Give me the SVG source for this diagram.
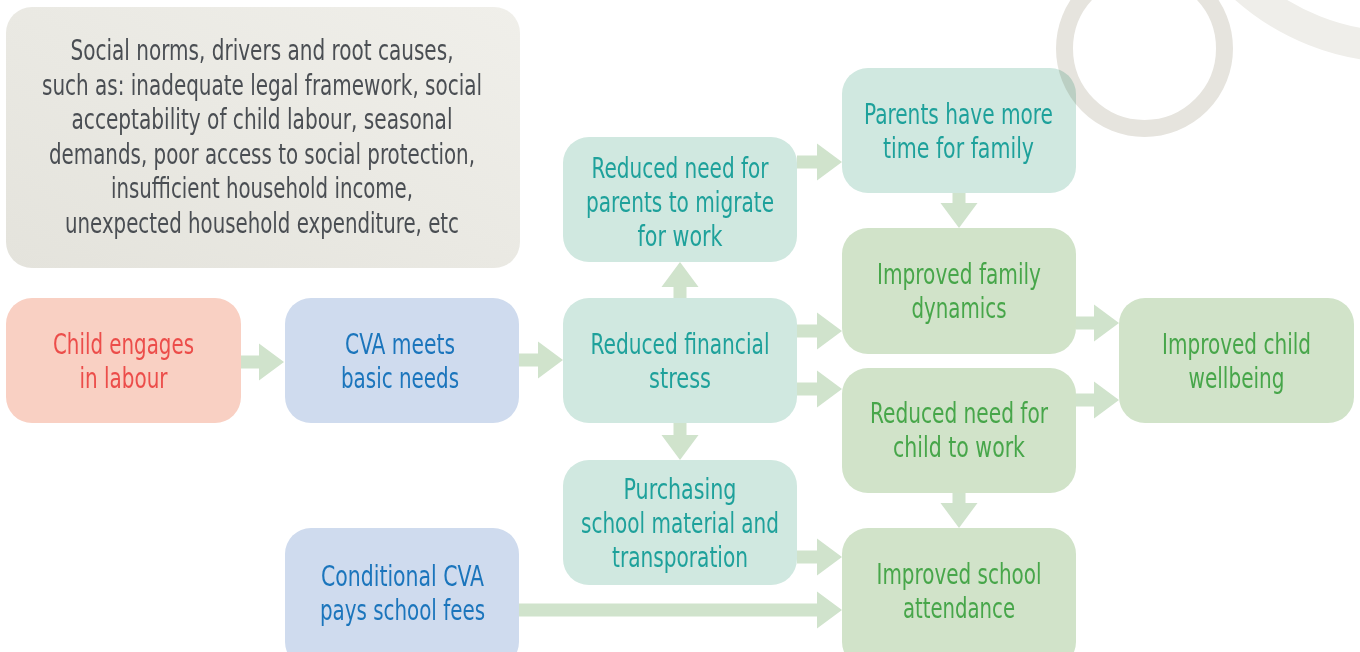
<svg xmlns="http://www.w3.org/2000/svg" width="1360" height="652" viewBox="0 0 1360 652">
<defs>
<linearGradient id="gg" x1="0" y1="1" x2="1" y2="0">
<stop offset="0" stop-color="#e4e3dc"/>
<stop offset="1" stop-color="#f0efea"/>
</linearGradient>
</defs>
<style>
text{font-family:"Liberation Sans Narrow","DejaVu Sans Condensed","Roboto Condensed",sans-serif;font-size:28px;text-anchor:middle}
rect{mix-blend-mode:multiply}
.peach{fill:#f9d0c3}.blue{fill:#cfdbee}.teal{fill:#d0e8e0}.green{fill:#d1e3c9}
.tp{fill:#ec4d4a}.tb{fill:#1b75bc}.tt{fill:#1ea19b}.tg{fill:#47a64a}.tgr{fill:#4a4e53}
.arr{fill:#d0e3cc}
</style>
<rect width="1360" height="652" fill="#ffffff" style="mix-blend-mode:normal"/>
<g id="decor" fill="none">
<circle cx="1144.5" cy="48.5" r="80" stroke="#e6e4de" stroke-width="17"/>
<circle cx="1400" cy="-186" r="233" stroke="#efeeea" stroke-width="31"/>
</g>
<g id="connectors" class="arr">
<polygon points="241,355.5 259,355.5 259,343.5 284,362 259,380.5 259,368.5 241,368.5"/>
<polygon points="519,353.5 538,353.5 538,341.5 563,360 538,378.5 538,366.5 519,366.5"/>
<polygon points="673.5,298 673.5,287 661.5,287 680,262 698.5,287 686.5,287 686.5,298"/>
<polygon points="673.5,423 673.5,435 661.5,435 680,460 698.5,435 686.5,435 686.5,423"/>
<polygon points="797,155.5 817,155.5 817,143.5 842,162 817,180.5 817,168.5 797,168.5"/>
<polygon points="952.5,193 952.5,203 940.5,203 959,228 977.5,203 965.5,203 965.5,193"/>
<polygon points="797,324.5 817,324.5 817,312.5 842,331 817,349.5 817,337.5 797,337.5"/>
<polygon points="797,382.5 817,382.5 817,370.5 842,389 817,407.5 817,395.5 797,395.5"/>
<polygon points="1076,316.5 1094,316.5 1094,304.5 1119,323 1094,341.5 1094,329.5 1076,329.5"/>
<polygon points="1076,393.5 1094,393.5 1094,381.5 1119,400 1094,418.5 1094,406.5 1076,406.5"/>
<polygon points="952.5,493 952.5,503 940.5,503 959,528 977.5,503 965.5,503 965.5,493"/>
<polygon points="797,550.5 817,550.5 817,538.5 842,557 817,575.5 817,563.5 797,563.5"/>
<polygon points="519,603.5 817,603.5 817,591.5 842,610 817,628.5 817,616.5 519,616.5"/>
</g>
<g id="root-causes">
<rect x="6" y="7" width="514" height="261" rx="26" fill="url(#gg)"/>
<text class="tgr" x="262" y="60" textLength="383" lengthAdjust="spacingAndGlyphs">Social norms, drivers and root causes,</text>
<text class="tgr" x="262" y="94.5" textLength="440" lengthAdjust="spacingAndGlyphs">such as: inadequate legal framework, social</text>
<text class="tgr" x="262" y="129" textLength="381" lengthAdjust="spacingAndGlyphs">acceptability of child labour, seasonal</text>
<text class="tgr" x="262" y="163.5" textLength="426" lengthAdjust="spacingAndGlyphs">demands, poor access to social protection,</text>
<text class="tgr" x="262" y="198" textLength="302" lengthAdjust="spacingAndGlyphs">insufficient household income,</text>
<text class="tgr" x="262" y="232.5" textLength="394" lengthAdjust="spacingAndGlyphs">unexpected household expenditure, etc</text>
</g>
<g id="child-labour">
<rect class="peach" x="6" y="298" width="235" height="125" rx="26"/>
<text class="tp" x="123.5" y="354" textLength="141" lengthAdjust="spacingAndGlyphs">Child engages</text>
<text class="tp" x="123.5" y="388" textLength="88" lengthAdjust="spacingAndGlyphs">in labour</text>
</g>
<g id="cva-basic">
<rect class="blue" x="285" y="298" width="234" height="125" rx="26"/>
<text class="tb" x="400" y="354" textLength="110" lengthAdjust="spacingAndGlyphs">CVA meets</text>
<text class="tb" x="400" y="388" textLength="118" lengthAdjust="spacingAndGlyphs">basic needs</text>
</g>
<g id="conditional-cva">
<rect class="blue" x="285" y="528" width="234" height="140" rx="26"/>
<text class="tb" x="402.5" y="586" textLength="163" lengthAdjust="spacingAndGlyphs">Conditional CVA</text>
<text class="tb" x="402.5" y="620" textLength="165" lengthAdjust="spacingAndGlyphs">pays school fees</text>
</g>
<g id="reduced-migrate">
<rect class="teal" x="563" y="137" width="234" height="125" rx="26"/>
<text class="tt" x="680" y="178" textLength="177" lengthAdjust="spacingAndGlyphs">Reduced need for</text>
<text class="tt" x="680" y="212" textLength="188" lengthAdjust="spacingAndGlyphs">parents to migrate</text>
<text class="tt" x="680" y="246" textLength="85" lengthAdjust="spacingAndGlyphs">for work</text>
</g>
<g id="reduced-stress">
<rect class="teal" x="563" y="298" width="234" height="125" rx="26"/>
<text class="tt" x="680" y="354" textLength="179" lengthAdjust="spacingAndGlyphs">Reduced financial</text>
<text class="tt" x="680" y="388" textLength="62" lengthAdjust="spacingAndGlyphs">stress</text>
</g>
<g id="purchasing">
<rect class="teal" x="563" y="460" width="234" height="125" rx="26"/>
<text class="tt" x="680" y="499" textLength="113" lengthAdjust="spacingAndGlyphs">Purchasing</text>
<text class="tt" x="680" y="533" textLength="198" lengthAdjust="spacingAndGlyphs">school material and</text>
<text class="tt" x="680" y="567" textLength="136" lengthAdjust="spacingAndGlyphs">transporation</text>
</g>
<g id="parents-time">
<rect class="teal" x="842" y="68" width="234" height="125" rx="26"/>
<text class="tt" x="958.5" y="124" textLength="189" lengthAdjust="spacingAndGlyphs">Parents have more</text>
<text class="tt" x="958.5" y="158" textLength="151" lengthAdjust="spacingAndGlyphs">time for family</text>
</g>
<g id="family-dynamics">
<rect class="green" x="842" y="228" width="234" height="126" rx="26"/>
<text class="tg" x="959" y="284" textLength="164" lengthAdjust="spacingAndGlyphs">Improved family</text>
<text class="tg" x="959" y="318" textLength="95" lengthAdjust="spacingAndGlyphs">dynamics</text>
</g>
<g id="reduced-child-work">
<rect class="green" x="842" y="368" width="234" height="125" rx="26"/>
<text class="tg" x="959" y="423" textLength="178" lengthAdjust="spacingAndGlyphs">Reduced need for</text>
<text class="tg" x="959" y="457" textLength="132" lengthAdjust="spacingAndGlyphs">child to work</text>
</g>
<g id="school-attendance">
<rect class="green" x="842" y="528" width="234" height="140" rx="26"/>
<text class="tg" x="959" y="584" textLength="165" lengthAdjust="spacingAndGlyphs">Improved school</text>
<text class="tg" x="959" y="618" textLength="112" lengthAdjust="spacingAndGlyphs">attendance</text>
</g>
<g id="child-wellbeing">
<rect class="green" x="1119" y="298" width="235" height="125" rx="26"/>
<text class="tg" x="1236.5" y="354" textLength="149" lengthAdjust="spacingAndGlyphs">Improved child</text>
<text class="tg" x="1236.5" y="388" textLength="96" lengthAdjust="spacingAndGlyphs">wellbeing</text>
</g>
</svg>
